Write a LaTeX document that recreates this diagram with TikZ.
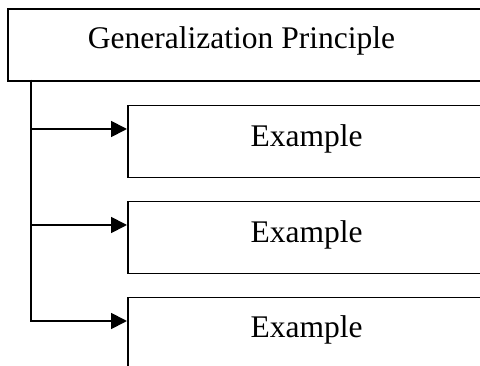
\documentclass[tikz,border=0pt]{standalone}
\usepackage{fontspec}
\setmainfont{Liberation Serif}
\usetikzlibrary{arrows.meta}
\begin{document}
\begin{tikzpicture}[x=1pt,y=-1pt,
  box/.style={draw, line width=1.8pt, rectangle, inner sep=0pt, anchor=north west, minimum height=72pt},
  lbl/.style={font=\fontsize{31.5}{38}\selectfont, anchor=base, inner sep=0pt},
  conn/.style={line width=1.8pt, -{Triangle[length=16pt,width=16pt]}}]
\useasboundingbox (0,0) rectangle (480,366);
\clip (0,0) rectangle (480,366);
\node[box, minimum width=520pt] (gp) at (7,8) {};
\node[box, minimum width=400pt] (ex1) at (127,104.7) {};
\node[box, minimum width=400pt] (ex2) at (127,200.7) {};
\node[box, minimum width=400pt] (ex3) at (127,296.7) {};
\node[lbl] (gpt) at (241.5,49) {Generalization Principle};
\node[lbl] (ex1t) at (306.7,146.7) {Example};
\node[lbl] (ex2t) at (306.7,242.3) {Example};
\node[lbl] (ex3t) at (306.7,337.5) {Example};
\coordinate (trunk) at (31,80);
\draw[conn] (trunk) |- ([yshift=-24.3pt]ex1.north west);
\draw[conn] (trunk) |- ([yshift=-24.3pt]ex2.north west);
\draw[conn] (trunk) |- ([yshift=-24.3pt]ex3.north west);
\end{tikzpicture}
\end{document}
